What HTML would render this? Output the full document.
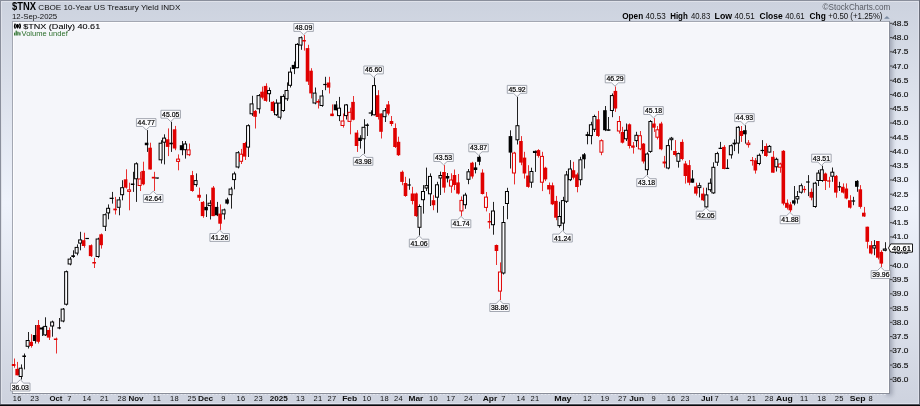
<!DOCTYPE html>
<html><head><meta charset="utf-8"><style>
html,body{margin:0;padding:0;width:920px;height:406px;overflow:hidden;background:#d0d5e0}
body{position:relative;font-family:"Liberation Sans",sans-serif}
svg{will-change:transform}
.ax{font-family:"Liberation Sans",sans-serif;font-size:7.5px;fill:#111;stroke:#111;stroke-width:0.15px}
.xl{font-family:"Liberation Sans",sans-serif;font-size:7.5px;letter-spacing:0.35px;fill:#111}
.xb{font-family:"Liberation Sans",sans-serif;font-size:8px;font-weight:bold;fill:#111}
.pl{font-family:"Liberation Sans",sans-serif;font-size:7px;fill:#000;stroke:#000;stroke-width:0.2px}
.cp{font-family:"Liberation Sans",sans-serif;font-size:7.5px;font-weight:bold;fill:#000}
</style></head><body>
<svg width="920" height="406" viewBox="0 0 920 406" style="position:absolute;left:0;top:0">
<defs><linearGradient id="shR" x1="0" x2="1" y1="0" y2="0"><stop offset="0" stop-color="#9fa4b0"/><stop offset="1" stop-color="#d0d5e0" stop-opacity="0"/></linearGradient><linearGradient id="shB" x1="0" x2="0" y1="0" y2="1"><stop offset="0" stop-color="#9fa4b0"/><stop offset="1" stop-color="#d0d5e0" stop-opacity="0"/></linearGradient></defs>
<linearGradient id="bgG" x1="0" x2="0" y1="0" y2="1"><stop offset="0" stop-color="rgb(204,210,222)"/><stop offset="0.5" stop-color="rgb(239,243,252)"/><stop offset="1" stop-color="rgb(205,210,222)"/></linearGradient>
<rect x="0" y="0" width="920" height="406" fill="url(#bgG)"/>
<rect x="0" y="0" width="920" height="1" fill="#8a8f9c"/>
<rect x="0" y="0" width="1" height="406" fill="#8a8f9c"/>
<rect x="1" y="1" width="917" height="1" fill="#dfe2ea"/>
<rect x="1" y="1" width="1" height="402" fill="#dfe2ea"/>
<rect x="918" y="1" width="1" height="403" fill="#dde0ea"/>
<rect x="1" y="403" width="918" height="1" fill="#dde0ea"/>
<rect x="919" y="0" width="1" height="406" fill="#6a6e7a"/>
<rect x="0" y="404" width="920" height="1" fill="#50535c"/>
<rect x="0" y="405" width="920" height="1" fill="#0a0a0c"/>
<filter id="ds" x="-200%" y="-5%" width="500%" height="110%"><feGaussianBlur stdDeviation="2.0"/></filter>
<rect x="886" y="23" width="6.5" height="372.5" fill="#6e7486" opacity="0.5" filter="url(#ds)"/>
<rect x="12" y="21" width="878" height="373" fill="#a3a7b2"/>
<rect x="13" y="22" width="876" height="371" fill="#f5f6fa"/>
<rect x="13" y="22" width="876" height="1" fill="#fdfdfe"/>
<rect x="13" y="22" width="1" height="371" fill="#fdfdfe"/>
<rect x="888" y="22" width="1" height="371" fill="#fdfdfe"/>
<rect x="13" y="392" width="876" height="1" fill="#fdfdfe"/>
<rect x="889" y="21" width="1" height="373" fill="#8a8e9a"/>
<rect x="12" y="393" width="878" height="1" fill="#8a8e9a"/>
<rect x="890" y="22.80" width="2.5" height="1" fill="#444"/>
<text x="892.2" y="25.80" class="ax" textLength="16.2" lengthAdjust="spacingAndGlyphs">48.5</text>
<rect x="890" y="37.04" width="2.5" height="1" fill="#444"/>
<text x="892.2" y="40.04" class="ax" textLength="16.2" lengthAdjust="spacingAndGlyphs">48.0</text>
<rect x="890" y="51.28" width="2.5" height="1" fill="#444"/>
<text x="892.2" y="54.28" class="ax" textLength="16.2" lengthAdjust="spacingAndGlyphs">47.5</text>
<rect x="890" y="65.52" width="2.5" height="1" fill="#444"/>
<text x="892.2" y="68.52" class="ax" textLength="16.2" lengthAdjust="spacingAndGlyphs">47.0</text>
<rect x="890" y="79.76" width="2.5" height="1" fill="#444"/>
<text x="892.2" y="82.76" class="ax" textLength="16.2" lengthAdjust="spacingAndGlyphs">46.5</text>
<rect x="890" y="94.00" width="2.5" height="1" fill="#444"/>
<text x="892.2" y="97.00" class="ax" textLength="16.2" lengthAdjust="spacingAndGlyphs">46.0</text>
<rect x="890" y="108.24" width="2.5" height="1" fill="#444"/>
<text x="892.2" y="111.24" class="ax" textLength="16.2" lengthAdjust="spacingAndGlyphs">45.5</text>
<rect x="890" y="122.48" width="2.5" height="1" fill="#444"/>
<text x="892.2" y="125.48" class="ax" textLength="16.2" lengthAdjust="spacingAndGlyphs">45.0</text>
<rect x="890" y="136.72" width="2.5" height="1" fill="#444"/>
<text x="892.2" y="139.72" class="ax" textLength="16.2" lengthAdjust="spacingAndGlyphs">44.5</text>
<rect x="890" y="150.96" width="2.5" height="1" fill="#444"/>
<text x="892.2" y="153.96" class="ax" textLength="16.2" lengthAdjust="spacingAndGlyphs">44.0</text>
<rect x="890" y="165.20" width="2.5" height="1" fill="#444"/>
<text x="892.2" y="168.20" class="ax" textLength="16.2" lengthAdjust="spacingAndGlyphs">43.5</text>
<rect x="890" y="179.44" width="2.5" height="1" fill="#444"/>
<text x="892.2" y="182.44" class="ax" textLength="16.2" lengthAdjust="spacingAndGlyphs">43.0</text>
<rect x="890" y="193.68" width="2.5" height="1" fill="#444"/>
<text x="892.2" y="196.68" class="ax" textLength="16.2" lengthAdjust="spacingAndGlyphs">42.5</text>
<rect x="890" y="207.92" width="2.5" height="1" fill="#444"/>
<text x="892.2" y="210.92" class="ax" textLength="16.2" lengthAdjust="spacingAndGlyphs">42.0</text>
<rect x="890" y="222.16" width="2.5" height="1" fill="#444"/>
<text x="892.2" y="225.16" class="ax" textLength="16.2" lengthAdjust="spacingAndGlyphs">41.5</text>
<rect x="890" y="236.40" width="2.5" height="1" fill="#444"/>
<text x="892.2" y="239.40" class="ax" textLength="16.2" lengthAdjust="spacingAndGlyphs">41.0</text>
<rect x="890" y="250.64" width="2.5" height="1" fill="#444"/>
<text x="892.2" y="253.64" class="ax" textLength="16.2" lengthAdjust="spacingAndGlyphs">40.5</text>
<rect x="890" y="264.88" width="2.5" height="1" fill="#444"/>
<text x="892.2" y="267.88" class="ax" textLength="16.2" lengthAdjust="spacingAndGlyphs">40.0</text>
<rect x="890" y="279.12" width="2.5" height="1" fill="#444"/>
<text x="892.2" y="282.12" class="ax" textLength="16.2" lengthAdjust="spacingAndGlyphs">39.5</text>
<rect x="890" y="293.36" width="2.5" height="1" fill="#444"/>
<text x="892.2" y="296.36" class="ax" textLength="16.2" lengthAdjust="spacingAndGlyphs">39.0</text>
<rect x="890" y="307.60" width="2.5" height="1" fill="#444"/>
<text x="892.2" y="310.60" class="ax" textLength="16.2" lengthAdjust="spacingAndGlyphs">38.5</text>
<rect x="890" y="321.84" width="2.5" height="1" fill="#444"/>
<text x="892.2" y="324.84" class="ax" textLength="16.2" lengthAdjust="spacingAndGlyphs">38.0</text>
<rect x="890" y="336.08" width="2.5" height="1" fill="#444"/>
<text x="892.2" y="339.08" class="ax" textLength="16.2" lengthAdjust="spacingAndGlyphs">37.5</text>
<rect x="890" y="350.32" width="2.5" height="1" fill="#444"/>
<text x="892.2" y="353.32" class="ax" textLength="16.2" lengthAdjust="spacingAndGlyphs">37.0</text>
<rect x="890" y="364.56" width="2.5" height="1" fill="#444"/>
<text x="892.2" y="367.56" class="ax" textLength="16.2" lengthAdjust="spacingAndGlyphs">36.5</text>
<rect x="890" y="378.80" width="2.5" height="1" fill="#444"/>
<text x="892.2" y="381.80" class="ax" textLength="16.2" lengthAdjust="spacingAndGlyphs">36.0</text>
<rect x="14" y="358.50" width="1" height="9.20" fill="#e83030"/>
<rect x="11.86" y="364.00" width="3.6" height="2.00" fill="#e00000"/>
<rect x="17" y="361.90" width="1" height="13.40" fill="#e83030"/>
<rect x="15.36" y="368.90" width="3.6" height="6.40" fill="#e00000"/>
<rect x="21" y="364.40" width="1" height="15.10" fill="#222"/>
<rect x="19.16" y="368.20" width="3.0" height="8.30" fill="#fbfbfd" stroke="#000" stroke-width="1.0"/>
<rect x="24" y="353.50" width="1" height="15.90" fill="#222"/>
<rect x="22.36" y="355.50" width="3.6" height="1.50" fill="#000"/>
<rect x="28" y="332.00" width="1" height="16.50" fill="#222"/>
<rect x="26.15" y="340.50" width="3.0" height="5.80" fill="#fbfbfd" stroke="#000" stroke-width="1.0"/>
<rect x="31" y="334.20" width="1" height="13.40" fill="#e83030"/>
<rect x="29.35" y="341.80" width="3.6" height="4.20" fill="#e00000"/>
<rect x="35" y="325.00" width="1" height="18.50" fill="#222"/>
<rect x="32.85" y="335.00" width="3.6" height="6.00" fill="#000"/>
<rect x="38" y="320.00" width="1" height="23.50" fill="#e83030"/>
<rect x="36.35" y="325.00" width="3.6" height="16.80" fill="#e00000"/>
<rect x="42" y="326.70" width="1" height="9.30" fill="#222"/>
<rect x="40.15" y="328.00" width="3.0" height="1.00" fill="#fbfbfd" stroke="#000" stroke-width="1.0"/>
<rect x="45" y="317.30" width="1" height="18.70" fill="#222"/>
<rect x="43.65" y="326.40" width="3.0" height="8.50" fill="#fbfbfd" stroke="#000" stroke-width="1.0"/>
<rect x="49" y="327.50" width="1" height="12.50" fill="#e83030"/>
<rect x="46.84" y="330.00" width="3.6" height="7.60" fill="#e00000"/>
<rect x="52" y="320.60" width="1" height="16.10" fill="#222"/>
<rect x="50.64" y="322.00" width="3.0" height="4.00" fill="#fbfbfd" stroke="#000" stroke-width="1.0"/>
<rect x="56" y="337.60" width="1" height="15.90" fill="#e83030"/>
<rect x="53.84" y="338.50" width="3.6" height="1.50" fill="#e00000"/>
<rect x="59" y="318.00" width="1" height="11.20" fill="#222"/>
<rect x="57.34" y="327.30" width="3.6" height="1.2" fill="#000"/>
<rect x="63" y="308.00" width="1" height="14.30" fill="#222"/>
<rect x="61.14" y="309.10" width="3.0" height="11.90" fill="#fbfbfd" stroke="#000" stroke-width="1.0"/>
<rect x="66" y="270.50" width="1" height="35.00" fill="#222"/>
<rect x="64.64" y="271.70" width="3.0" height="32.50" fill="#fbfbfd" stroke="#000" stroke-width="1.0"/>
<rect x="70" y="257.00" width="1" height="8.30" fill="#222"/>
<rect x="68.14" y="259.10" width="3.0" height="4.90" fill="#fbfbfd" stroke="#000" stroke-width="1.0"/>
<rect x="73" y="250.30" width="1" height="7.50" fill="#222"/>
<rect x="71.33" y="255.30" width="3.6" height="1.70" fill="#000"/>
<rect x="77" y="244.40" width="1" height="10.90" fill="#222"/>
<rect x="75.13" y="247.40" width="3.0" height="5.70" fill="#fbfbfd" stroke="#000" stroke-width="1.0"/>
<rect x="80" y="231.80" width="1" height="18.50" fill="#222"/>
<rect x="78.63" y="239.90" width="3.0" height="3.20" fill="#fbfbfd" stroke="#000" stroke-width="1.0"/>
<rect x="84" y="232.70" width="1" height="15.00" fill="#e83030"/>
<rect x="81.83" y="240.20" width="3.6" height="5.80" fill="#e00000"/>
<rect x="87" y="238.50" width="1" height="0.50" fill="#222"/>
<rect x="85.33" y="237.90" width="3.6" height="1.2" fill="#000"/>
<rect x="91" y="244.40" width="1" height="12.60" fill="#e83030"/>
<rect x="88.83" y="245.20" width="3.6" height="10.90" fill="#e00000"/>
<rect x="94" y="257.80" width="1" height="10.20" fill="#e83030"/>
<rect x="92.33" y="262.00" width="3.6" height="1.50" fill="#e00000"/>
<rect x="98" y="237.70" width="1" height="20.10" fill="#222"/>
<rect x="96.12" y="239.00" width="3.0" height="17.50" fill="#fbfbfd" stroke="#000" stroke-width="1.0"/>
<rect x="101" y="233.50" width="1" height="15.10" fill="#e83030"/>
<rect x="99.32" y="234.30" width="3.6" height="10.90" fill="#e00000"/>
<rect x="105" y="213.40" width="1" height="17.60" fill="#222"/>
<rect x="103.12" y="214.70" width="3.0" height="11.60" fill="#fbfbfd" stroke="#000" stroke-width="1.0"/>
<rect x="108" y="204.40" width="1" height="14.90" fill="#222"/>
<rect x="106.62" y="208.30" width="3.0" height="4.60" fill="#fbfbfd" stroke="#000" stroke-width="1.0"/>
<rect x="112" y="191.90" width="1" height="11.70" fill="#222"/>
<rect x="110.12" y="198.20" width="3.0" height="0.30" fill="#fbfbfd" stroke="#000" stroke-width="1.0"/>
<rect x="115" y="196.90" width="1" height="17.60" fill="#e83030"/>
<rect x="113.32" y="208.60" width="3.6" height="1.70" fill="#e00000"/>
<rect x="119" y="196.90" width="1" height="18.40" fill="#222"/>
<rect x="117.11" y="199.90" width="3.0" height="7.40" fill="#fbfbfd" stroke="#000" stroke-width="1.0"/>
<rect x="122" y="180.20" width="1" height="20.10" fill="#222"/>
<rect x="120.61" y="187.70" width="3.0" height="7.00" fill="#fbfbfd" stroke="#000" stroke-width="1.0"/>
<rect x="126" y="169.30" width="1" height="19.20" fill="#e83030"/>
<rect x="123.81" y="179.30" width="3.6" height="8.40" fill="#e00000"/>
<rect x="129" y="182.70" width="1" height="27.60" fill="#e83030"/>
<rect x="127.61" y="189.90" width="3.0" height="1.50" fill="#fbfbfd" stroke="#e00000" stroke-width="1.0"/>
<rect x="133" y="171.80" width="1" height="20.10" fill="#222"/>
<rect x="130.81" y="183.50" width="3.6" height="1.50" fill="#000"/>
<rect x="136" y="162.30" width="1" height="39.60" fill="#222"/>
<rect x="134.61" y="163.80" width="3.0" height="15.00" fill="#fbfbfd" stroke="#000" stroke-width="1.0"/>
<rect x="140" y="171.80" width="1" height="19.20" fill="#e83030"/>
<rect x="138.11" y="179.00" width="3.0" height="6.50" fill="#fbfbfd" stroke="#e00000" stroke-width="1.0"/>
<rect x="143" y="161.70" width="1" height="23.50" fill="#e83030"/>
<rect x="141.30" y="170.90" width="3.6" height="13.40" fill="#e00000"/>
<rect x="147" y="130.10" width="1" height="21.80" fill="#222"/>
<rect x="144.80" y="142.70" width="3.6" height="2.50" fill="#000"/>
<rect x="150" y="142.70" width="1" height="26.80" fill="#e83030"/>
<rect x="148.30" y="147.70" width="3.6" height="21.80" fill="#e00000"/>
<rect x="154" y="171.80" width="1" height="19.20" fill="#e83030"/>
<rect x="151.80" y="176.80" width="3.6" height="1.70" fill="#e00000"/>
<rect x="157" y="178.00" width="1" height="0.50" fill="#222"/>
<rect x="155.30" y="177.40" width="3.6" height="1.2" fill="#000"/>
<rect x="161" y="140.20" width="1" height="23.40" fill="#222"/>
<rect x="159.10" y="143.20" width="3.0" height="16.60" fill="#fbfbfd" stroke="#000" stroke-width="1.0"/>
<rect x="164" y="134.30" width="1" height="30.10" fill="#222"/>
<rect x="162.60" y="138.10" width="3.0" height="4.10" fill="#fbfbfd" stroke="#000" stroke-width="1.0"/>
<rect x="168" y="128.40" width="1" height="27.70" fill="#e83030"/>
<rect x="165.79" y="139.30" width="3.6" height="7.60" fill="#e00000"/>
<rect x="171" y="121.80" width="1" height="30.10" fill="#222"/>
<rect x="169.29" y="142.70" width="3.6" height="1.60" fill="#000"/>
<rect x="175" y="125.90" width="1" height="24.30" fill="#e83030"/>
<rect x="172.79" y="129.30" width="3.6" height="19.20" fill="#e00000"/>
<rect x="178" y="154.40" width="1" height="15.90" fill="#e83030"/>
<rect x="176.59" y="159.10" width="3.0" height="2.30" fill="#fbfbfd" stroke="#e00000" stroke-width="1.0"/>
<rect x="182" y="141.00" width="1" height="14.20" fill="#222"/>
<rect x="179.79" y="145.20" width="3.6" height="5.00" fill="#000"/>
<rect x="185" y="141.00" width="1" height="17.60" fill="#222"/>
<rect x="183.59" y="144.00" width="3.0" height="5.70" fill="#fbfbfd" stroke="#000" stroke-width="1.0"/>
<rect x="189" y="143.50" width="1" height="12.60" fill="#e83030"/>
<rect x="187.09" y="149.90" width="3.0" height="4.80" fill="#fbfbfd" stroke="#e00000" stroke-width="1.0"/>
<rect x="192" y="170.90" width="1" height="20.90" fill="#e83030"/>
<rect x="190.28" y="175.10" width="3.6" height="15.90" fill="#e00000"/>
<rect x="196" y="173.40" width="1" height="13.40" fill="#222"/>
<rect x="194.08" y="180.60" width="3.0" height="4.00" fill="#fbfbfd" stroke="#000" stroke-width="1.0"/>
<rect x="199" y="187.60" width="1" height="13.40" fill="#e83030"/>
<rect x="197.28" y="194.80" width="3.6" height="2.90" fill="#e00000"/>
<rect x="203" y="201.00" width="1" height="16.80" fill="#e83030"/>
<rect x="200.78" y="201.90" width="3.6" height="14.20" fill="#e00000"/>
<rect x="206" y="194.30" width="1" height="22.70" fill="#222"/>
<rect x="204.28" y="206.90" width="3.6" height="3.40" fill="#000"/>
<rect x="210" y="200.20" width="1" height="19.30" fill="#222"/>
<rect x="208.08" y="203.20" width="3.0" height="2.40" fill="#fbfbfd" stroke="#000" stroke-width="1.0"/>
<rect x="213" y="186.00" width="1" height="30.10" fill="#e83030"/>
<rect x="211.27" y="187.60" width="3.6" height="28.50" fill="#e00000"/>
<rect x="217" y="201.90" width="1" height="14.20" fill="#222"/>
<rect x="214.77" y="206.90" width="3.6" height="8.40" fill="#000"/>
<rect x="220" y="204.40" width="1" height="25.50" fill="#e83030"/>
<rect x="218.27" y="213.60" width="3.6" height="10.10" fill="#e00000"/>
<rect x="224" y="208.60" width="1" height="10.90" fill="#222"/>
<rect x="222.07" y="209.90" width="3.0" height="4.00" fill="#fbfbfd" stroke="#000" stroke-width="1.0"/>
<rect x="227" y="197.70" width="1" height="6.70" fill="#222"/>
<rect x="225.27" y="199.40" width="3.6" height="4.20" fill="#000"/>
<rect x="231" y="186.80" width="1" height="21.80" fill="#222"/>
<rect x="229.07" y="189.00" width="3.0" height="5.70" fill="#fbfbfd" stroke="#000" stroke-width="1.0"/>
<rect x="234" y="171.70" width="1" height="17.60" fill="#222"/>
<rect x="232.57" y="173.90" width="3.0" height="5.70" fill="#fbfbfd" stroke="#000" stroke-width="1.0"/>
<rect x="238" y="151.10" width="1" height="17.30" fill="#222"/>
<rect x="236.06" y="152.70" width="3.0" height="14.30" fill="#fbfbfd" stroke="#000" stroke-width="1.0"/>
<rect x="241" y="148.90" width="1" height="15.10" fill="#e83030"/>
<rect x="239.56" y="154.20" width="3.0" height="7.10" fill="#fbfbfd" stroke="#e00000" stroke-width="1.0"/>
<rect x="245" y="141.80" width="1" height="18.20" fill="#e83030"/>
<rect x="242.76" y="143.00" width="3.6" height="13.60" fill="#e00000"/>
<rect x="248" y="124.30" width="1" height="32.70" fill="#222"/>
<rect x="246.56" y="125.70" width="3.0" height="21.40" fill="#fbfbfd" stroke="#000" stroke-width="1.0"/>
<rect x="252" y="95.80" width="1" height="20.10" fill="#222"/>
<rect x="250.06" y="103.90" width="3.0" height="9.90" fill="#fbfbfd" stroke="#000" stroke-width="1.0"/>
<rect x="255" y="110.00" width="1" height="18.50" fill="#e83030"/>
<rect x="253.26" y="110.90" width="3.6" height="5.90" fill="#e00000"/>
<rect x="259" y="94.00" width="1" height="19.50" fill="#222"/>
<rect x="257.06" y="95.60" width="3.0" height="13.20" fill="#fbfbfd" stroke="#000" stroke-width="1.0"/>
<rect x="262" y="86.60" width="1" height="12.70" fill="#e83030"/>
<rect x="260.25" y="91.70" width="3.6" height="5.90" fill="#e00000"/>
<rect x="266" y="83.30" width="1" height="18.50" fill="#e83030"/>
<rect x="263.75" y="85.90" width="3.6" height="15.00" fill="#e00000"/>
<rect x="269" y="87.50" width="1" height="14.30" fill="#222"/>
<rect x="267.55" y="90.50" width="3.0" height="3.20" fill="#fbfbfd" stroke="#000" stroke-width="1.0"/>
<rect x="273" y="101.00" width="1" height="11.70" fill="#e83030"/>
<rect x="270.75" y="101.80" width="3.6" height="9.20" fill="#e00000"/>
<rect x="276" y="99.30" width="1" height="16.70" fill="#222"/>
<rect x="274.55" y="103.10" width="3.0" height="11.60" fill="#fbfbfd" stroke="#000" stroke-width="1.0"/>
<rect x="280" y="95.90" width="1" height="23.50" fill="#222"/>
<rect x="278.05" y="103.10" width="3.0" height="14.10" fill="#fbfbfd" stroke="#000" stroke-width="1.0"/>
<rect x="283" y="94.20" width="1" height="17.60" fill="#222"/>
<rect x="281.54" y="96.40" width="3.0" height="14.10" fill="#fbfbfd" stroke="#000" stroke-width="1.0"/>
<rect x="287" y="82.40" width="1" height="18.50" fill="#222"/>
<rect x="285.04" y="90.50" width="3.0" height="8.30" fill="#fbfbfd" stroke="#000" stroke-width="1.0"/>
<rect x="290" y="67.40" width="1" height="20.10" fill="#222"/>
<rect x="288.54" y="72.10" width="3.0" height="13.20" fill="#fbfbfd" stroke="#000" stroke-width="1.0"/>
<rect x="294" y="61.50" width="1" height="12.60" fill="#222"/>
<rect x="291.74" y="64.90" width="3.6" height="4.10" fill="#000"/>
<rect x="297" y="43.10" width="1" height="25.10" fill="#222"/>
<rect x="295.54" y="44.40" width="3.0" height="23.30" fill="#fbfbfd" stroke="#000" stroke-width="1.0"/>
<rect x="301" y="36.40" width="1" height="13.40" fill="#222"/>
<rect x="299.04" y="37.70" width="3.0" height="7.40" fill="#fbfbfd" stroke="#000" stroke-width="1.0"/>
<rect x="304" y="35.00" width="1" height="15.60" fill="#e83030"/>
<rect x="302.24" y="40.00" width="3.6" height="1.50" fill="#e00000"/>
<rect x="308" y="44.80" width="1" height="40.20" fill="#e83030"/>
<rect x="305.73" y="48.10" width="3.6" height="33.50" fill="#e00000"/>
<rect x="311" y="68.20" width="1" height="30.20" fill="#e83030"/>
<rect x="309.23" y="70.70" width="3.6" height="22.70" fill="#e00000"/>
<rect x="315" y="87.50" width="1" height="16.80" fill="#222"/>
<rect x="313.03" y="93.10" width="3.0" height="9.90" fill="#fbfbfd" stroke="#000" stroke-width="1.0"/>
<rect x="318" y="99.30" width="1" height="9.20" fill="#e83030"/>
<rect x="316.23" y="101.00" width="3.6" height="1.60" fill="#e00000"/>
<rect x="322" y="90.00" width="1" height="16.80" fill="#222"/>
<rect x="320.03" y="96.00" width="3.0" height="9.50" fill="#fbfbfd" stroke="#000" stroke-width="1.0"/>
<rect x="325" y="76.80" width="1" height="13.40" fill="#222"/>
<rect x="323.23" y="83.90" width="3.6" height="1.2" fill="#000"/>
<rect x="329" y="76.80" width="1" height="16.70" fill="#e83030"/>
<rect x="326.73" y="82.50" width="3.6" height="5.10" fill="#e00000"/>
<rect x="332" y="104.40" width="1" height="11.70" fill="#e83030"/>
<rect x="330.22" y="113.60" width="3.6" height="2.50" fill="#e00000"/>
<rect x="336" y="101.00" width="1" height="9.30" fill="#222"/>
<rect x="333.72" y="104.40" width="3.6" height="5.90" fill="#000"/>
<rect x="339" y="96.90" width="1" height="24.20" fill="#222"/>
<rect x="337.52" y="108.20" width="3.0" height="7.40" fill="#fbfbfd" stroke="#000" stroke-width="1.0"/>
<rect x="343" y="113.50" width="1" height="14.10" fill="#e83030"/>
<rect x="341.02" y="121.00" width="3.0" height="4.50" fill="#fbfbfd" stroke="#e00000" stroke-width="1.0"/>
<rect x="346" y="104.00" width="1" height="15.50" fill="#222"/>
<rect x="344.52" y="104.90" width="3.0" height="10.70" fill="#fbfbfd" stroke="#000" stroke-width="1.0"/>
<rect x="350" y="107.70" width="1" height="26.60" fill="#e83030"/>
<rect x="348.02" y="112.30" width="3.0" height="9.10" fill="#fbfbfd" stroke="#e00000" stroke-width="1.0"/>
<rect x="353" y="96.00" width="1" height="24.30" fill="#e83030"/>
<rect x="351.21" y="101.90" width="3.6" height="17.90" fill="#e00000"/>
<rect x="357" y="130.10" width="1" height="21.80" fill="#e83030"/>
<rect x="354.71" y="132.60" width="3.6" height="13.40" fill="#e00000"/>
<rect x="360" y="135.20" width="1" height="13.40" fill="#222"/>
<rect x="358.21" y="137.70" width="3.6" height="3.30" fill="#000"/>
<rect x="364" y="119.20" width="1" height="34.60" fill="#222"/>
<rect x="362.01" y="127.30" width="3.0" height="11.50" fill="#fbfbfd" stroke="#000" stroke-width="1.0"/>
<rect x="367" y="123.40" width="1" height="12.60" fill="#222"/>
<rect x="365.21" y="124.50" width="3.6" height="1.50" fill="#000"/>
<rect x="371" y="110.30" width="1" height="5.80" fill="#222"/>
<rect x="368.71" y="112.40" width="3.6" height="1.2" fill="#000"/>
<rect x="374" y="77.50" width="1" height="37.80" fill="#222"/>
<rect x="372.51" y="85.60" width="3.0" height="29.20" fill="#fbfbfd" stroke="#000" stroke-width="1.0"/>
<rect x="378" y="90.20" width="1" height="29.30" fill="#e83030"/>
<rect x="375.70" y="95.20" width="3.6" height="21.80" fill="#e00000"/>
<rect x="381" y="113.40" width="1" height="25.10" fill="#e83030"/>
<rect x="379.20" y="113.50" width="3.6" height="18.30" fill="#e00000"/>
<rect x="385" y="108.00" width="1" height="14.00" fill="#222"/>
<rect x="383.00" y="110.70" width="3.0" height="6.00" fill="#fbfbfd" stroke="#000" stroke-width="1.0"/>
<rect x="388" y="101.00" width="1" height="14.30" fill="#e83030"/>
<rect x="386.20" y="104.40" width="3.6" height="9.20" fill="#e00000"/>
<rect x="391" y="116.00" width="1" height="10.10" fill="#e83030"/>
<rect x="389.70" y="121.00" width="3.6" height="3.00" fill="#e00000"/>
<rect x="395" y="123.40" width="1" height="24.60" fill="#e83030"/>
<rect x="393.20" y="128.00" width="3.6" height="19.00" fill="#e00000"/>
<rect x="398" y="136.70" width="1" height="19.30" fill="#e83030"/>
<rect x="396.69" y="141.80" width="3.6" height="13.40" fill="#e00000"/>
<rect x="402" y="170.50" width="1" height="14.70" fill="#e83030"/>
<rect x="400.19" y="171.80" width="3.6" height="10.10" fill="#e00000"/>
<rect x="405" y="176.80" width="1" height="20.00" fill="#e83030"/>
<rect x="403.69" y="183.00" width="3.6" height="13.00" fill="#e00000"/>
<rect x="409" y="178.50" width="1" height="11.30" fill="#222"/>
<rect x="407.19" y="184.40" width="3.6" height="1.2" fill="#000"/>
<rect x="412" y="186.80" width="1" height="17.60" fill="#e83030"/>
<rect x="410.69" y="193.50" width="3.6" height="7.50" fill="#e00000"/>
<rect x="416" y="192.60" width="1" height="24.30" fill="#e83030"/>
<rect x="414.19" y="193.50" width="3.6" height="22.60" fill="#e00000"/>
<rect x="419" y="204.40" width="1" height="31.20" fill="#222"/>
<rect x="417.99" y="206.50" width="3.0" height="20.80" fill="#fbfbfd" stroke="#000" stroke-width="1.0"/>
<rect x="423" y="185.10" width="1" height="28.50" fill="#222"/>
<rect x="421.48" y="191.50" width="3.0" height="8.20" fill="#fbfbfd" stroke="#000" stroke-width="1.0"/>
<rect x="426" y="167.60" width="1" height="23.40" fill="#222"/>
<rect x="424.98" y="185.60" width="3.0" height="2.40" fill="#fbfbfd" stroke="#000" stroke-width="1.0"/>
<rect x="430" y="173.40" width="1" height="32.60" fill="#222"/>
<rect x="428.48" y="176.40" width="3.0" height="17.40" fill="#fbfbfd" stroke="#000" stroke-width="1.0"/>
<rect x="433" y="195.20" width="1" height="15.00" fill="#e83030"/>
<rect x="431.68" y="200.20" width="3.6" height="5.00" fill="#e00000"/>
<rect x="437" y="181.80" width="1" height="30.90" fill="#222"/>
<rect x="435.48" y="184.80" width="3.0" height="12.40" fill="#fbfbfd" stroke="#000" stroke-width="1.0"/>
<rect x="440" y="171.60" width="1" height="23.40" fill="#222"/>
<rect x="438.98" y="175.50" width="3.0" height="2.50" fill="#fbfbfd" stroke="#000" stroke-width="1.0"/>
<rect x="444" y="165.10" width="1" height="27.60" fill="#e83030"/>
<rect x="442.18" y="172.00" width="3.6" height="15.60" fill="#e00000"/>
<rect x="447" y="173.00" width="1" height="9.40" fill="#222"/>
<rect x="445.67" y="176.00" width="3.6" height="2.50" fill="#000"/>
<rect x="451" y="173.30" width="1" height="19.50" fill="#e83030"/>
<rect x="449.47" y="180.00" width="3.0" height="6.10" fill="#fbfbfd" stroke="#e00000" stroke-width="1.0"/>
<rect x="454" y="169.50" width="1" height="20.60" fill="#e83030"/>
<rect x="452.67" y="175.00" width="3.6" height="10.00" fill="#e00000"/>
<rect x="458" y="174.00" width="1" height="20.50" fill="#e83030"/>
<rect x="456.17" y="182.40" width="3.6" height="11.20" fill="#e00000"/>
<rect x="461" y="196.40" width="1" height="19.80" fill="#e83030"/>
<rect x="459.97" y="200.40" width="3.0" height="10.50" fill="#fbfbfd" stroke="#e00000" stroke-width="1.0"/>
<rect x="465" y="192.80" width="1" height="16.00" fill="#222"/>
<rect x="463.47" y="195.10" width="3.0" height="9.60" fill="#fbfbfd" stroke="#000" stroke-width="1.0"/>
<rect x="468" y="169.00" width="1" height="15.20" fill="#222"/>
<rect x="466.97" y="171.80" width="3.0" height="7.50" fill="#fbfbfd" stroke="#000" stroke-width="1.0"/>
<rect x="472" y="161.80" width="1" height="16.80" fill="#e83030"/>
<rect x="470.16" y="162.70" width="3.6" height="13.80" fill="#e00000"/>
<rect x="475" y="162.20" width="1" height="11.20" fill="#222"/>
<rect x="473.66" y="167.40" width="3.6" height="2.60" fill="#000"/>
<rect x="479" y="155.40" width="1" height="9.80" fill="#222"/>
<rect x="477.16" y="156.80" width="3.6" height="5.00" fill="#000"/>
<rect x="482" y="169.30" width="1" height="25.20" fill="#e83030"/>
<rect x="480.66" y="172.60" width="3.6" height="21.40" fill="#e00000"/>
<rect x="486" y="192.00" width="1" height="19.40" fill="#e83030"/>
<rect x="484.46" y="197.10" width="3.0" height="10.30" fill="#fbfbfd" stroke="#e00000" stroke-width="1.0"/>
<rect x="489" y="213.10" width="1" height="15.50" fill="#e83030"/>
<rect x="487.66" y="221.00" width="3.6" height="1.50" fill="#e00000"/>
<rect x="493" y="201.90" width="1" height="32.80" fill="#222"/>
<rect x="491.45" y="211.00" width="3.0" height="13.70" fill="#fbfbfd" stroke="#000" stroke-width="1.0"/>
<rect x="496" y="244.50" width="1" height="20.50" fill="#e83030"/>
<rect x="494.65" y="245.00" width="3.6" height="6.00" fill="#e00000"/>
<rect x="500" y="262.40" width="1" height="37.60" fill="#e83030"/>
<rect x="498.45" y="272.00" width="3.0" height="19.10" fill="#fbfbfd" stroke="#e00000" stroke-width="1.0"/>
<rect x="503" y="206.00" width="1" height="68.50" fill="#222"/>
<rect x="501.95" y="222.50" width="3.0" height="50.50" fill="#fbfbfd" stroke="#000" stroke-width="1.0"/>
<rect x="507" y="187.80" width="1" height="31.40" fill="#222"/>
<rect x="505.45" y="191.50" width="3.0" height="12.00" fill="#fbfbfd" stroke="#000" stroke-width="1.0"/>
<rect x="510" y="130.30" width="1" height="38.20" fill="#222"/>
<rect x="508.65" y="136.10" width="3.6" height="16.50" fill="#000"/>
<rect x="514" y="151.80" width="1" height="32.60" fill="#e83030"/>
<rect x="512.45" y="153.10" width="3.0" height="19.90" fill="#fbfbfd" stroke="#e00000" stroke-width="1.0"/>
<rect x="517" y="96.90" width="1" height="47.60" fill="#222"/>
<rect x="515.94" y="125.70" width="3.0" height="14.10" fill="#fbfbfd" stroke="#000" stroke-width="1.0"/>
<rect x="521" y="136.10" width="1" height="29.10" fill="#e83030"/>
<rect x="519.14" y="141.00" width="3.6" height="21.60" fill="#e00000"/>
<rect x="524" y="151.80" width="1" height="26.80" fill="#e83030"/>
<rect x="522.64" y="157.60" width="3.6" height="15.90" fill="#e00000"/>
<rect x="528" y="165.20" width="1" height="22.60" fill="#e83030"/>
<rect x="526.14" y="175.50" width="3.6" height="11.40" fill="#e00000"/>
<rect x="531" y="167.70" width="1" height="20.10" fill="#222"/>
<rect x="529.94" y="171.50" width="3.0" height="10.70" fill="#fbfbfd" stroke="#000" stroke-width="1.0"/>
<rect x="535" y="150.50" width="1" height="21.40" fill="#222"/>
<rect x="533.44" y="151.40" width="3.0" height="1.10" fill="#fbfbfd" stroke="#000" stroke-width="1.0"/>
<rect x="538" y="149.20" width="1" height="8.40" fill="#e83030"/>
<rect x="536.63" y="150.10" width="3.6" height="5.80" fill="#e00000"/>
<rect x="542" y="151.80" width="1" height="39.30" fill="#e83030"/>
<rect x="540.43" y="156.40" width="3.0" height="25.80" fill="#fbfbfd" stroke="#e00000" stroke-width="1.0"/>
<rect x="545" y="166.80" width="1" height="14.30" fill="#e83030"/>
<rect x="543.63" y="167.70" width="3.6" height="11.70" fill="#e00000"/>
<rect x="549" y="182.50" width="1" height="11.70" fill="#e83030"/>
<rect x="547.13" y="185.00" width="3.6" height="4.50" fill="#e00000"/>
<rect x="552" y="182.60" width="1" height="22.50" fill="#e83030"/>
<rect x="550.63" y="185.30" width="3.6" height="19.00" fill="#e00000"/>
<rect x="556" y="195.90" width="1" height="24.30" fill="#e83030"/>
<rect x="554.13" y="200.90" width="3.6" height="16.80" fill="#e00000"/>
<rect x="559" y="201.80" width="1" height="25.90" fill="#222"/>
<rect x="557.93" y="216.50" width="3.0" height="9.10" fill="#fbfbfd" stroke="#000" stroke-width="1.0"/>
<rect x="563" y="196.80" width="1" height="33.70" fill="#222"/>
<rect x="561.42" y="200.60" width="3.0" height="22.50" fill="#fbfbfd" stroke="#000" stroke-width="1.0"/>
<rect x="566" y="171.00" width="1" height="32.00" fill="#222"/>
<rect x="564.92" y="174.90" width="3.0" height="26.40" fill="#fbfbfd" stroke="#000" stroke-width="1.0"/>
<rect x="570" y="160.10" width="1" height="21.00" fill="#222"/>
<rect x="568.42" y="169.00" width="3.0" height="10.70" fill="#fbfbfd" stroke="#000" stroke-width="1.0"/>
<rect x="573" y="161.80" width="1" height="17.60" fill="#e83030"/>
<rect x="571.62" y="170.20" width="3.6" height="7.50" fill="#e00000"/>
<rect x="577" y="172.70" width="1" height="19.60" fill="#e83030"/>
<rect x="575.12" y="174.40" width="3.6" height="12.60" fill="#e00000"/>
<rect x="580" y="156.80" width="1" height="28.50" fill="#222"/>
<rect x="578.92" y="159.80" width="3.0" height="19.90" fill="#fbfbfd" stroke="#000" stroke-width="1.0"/>
<rect x="584" y="153.00" width="1" height="15.50" fill="#222"/>
<rect x="582.12" y="154.30" width="3.6" height="5.00" fill="#000"/>
<rect x="587" y="131.80" width="1" height="12.50" fill="#222"/>
<rect x="585.61" y="134.20" width="3.6" height="1.80" fill="#000"/>
<rect x="591" y="121.80" width="1" height="22.50" fill="#222"/>
<rect x="589.41" y="124.80" width="3.0" height="10.80" fill="#fbfbfd" stroke="#000" stroke-width="1.0"/>
<rect x="594" y="114.70" width="1" height="17.30" fill="#222"/>
<rect x="592.91" y="116.50" width="3.0" height="12.80" fill="#fbfbfd" stroke="#000" stroke-width="1.0"/>
<rect x="598" y="110.90" width="1" height="26.10" fill="#e83030"/>
<rect x="596.11" y="119.30" width="3.6" height="16.70" fill="#e00000"/>
<rect x="601" y="139.30" width="1" height="15.90" fill="#e83030"/>
<rect x="599.91" y="140.70" width="3.0" height="11.50" fill="#fbfbfd" stroke="#e00000" stroke-width="1.0"/>
<rect x="605" y="106.00" width="1" height="25.10" fill="#222"/>
<rect x="603.11" y="110.20" width="3.6" height="20.00" fill="#000"/>
<rect x="608" y="117.00" width="1" height="14.00" fill="#222"/>
<rect x="606.90" y="129.80" width="3.0" height="0.50" fill="#fbfbfd" stroke="#000" stroke-width="1.0"/>
<rect x="612" y="93.50" width="1" height="23.70" fill="#222"/>
<rect x="610.40" y="95.60" width="3.0" height="14.90" fill="#fbfbfd" stroke="#000" stroke-width="1.0"/>
<rect x="615" y="86.40" width="1" height="25.50" fill="#e83030"/>
<rect x="613.60" y="90.90" width="3.6" height="17.60" fill="#e00000"/>
<rect x="619" y="116.00" width="1" height="17.60" fill="#e83030"/>
<rect x="617.40" y="121.50" width="3.0" height="9.50" fill="#fbfbfd" stroke="#e00000" stroke-width="1.0"/>
<rect x="622" y="126.80" width="1" height="16.70" fill="#e83030"/>
<rect x="620.60" y="132.00" width="3.6" height="10.70" fill="#e00000"/>
<rect x="626" y="123.50" width="1" height="17.50" fill="#222"/>
<rect x="624.40" y="130.30" width="3.0" height="8.50" fill="#fbfbfd" stroke="#000" stroke-width="1.0"/>
<rect x="629" y="123.40" width="1" height="25.10" fill="#e83030"/>
<rect x="627.60" y="124.30" width="3.6" height="21.70" fill="#e00000"/>
<rect x="633" y="142.00" width="1" height="11.60" fill="#e83030"/>
<rect x="631.09" y="145.50" width="3.6" height="2.20" fill="#e00000"/>
<rect x="636" y="131.80" width="1" height="15.20" fill="#222"/>
<rect x="634.89" y="135.30" width="3.0" height="5.30" fill="#fbfbfd" stroke="#000" stroke-width="1.0"/>
<rect x="640" y="131.00" width="1" height="19.20" fill="#e83030"/>
<rect x="638.39" y="135.70" width="3.0" height="13.20" fill="#fbfbfd" stroke="#e00000" stroke-width="1.0"/>
<rect x="643" y="143.00" width="1" height="20.50" fill="#e83030"/>
<rect x="641.59" y="143.60" width="3.6" height="17.90" fill="#e00000"/>
<rect x="647" y="152.30" width="1" height="22.80" fill="#222"/>
<rect x="645.39" y="154.00" width="3.0" height="15.70" fill="#fbfbfd" stroke="#000" stroke-width="1.0"/>
<rect x="650" y="120.10" width="1" height="32.70" fill="#222"/>
<rect x="648.89" y="121.50" width="3.0" height="29.90" fill="#fbfbfd" stroke="#000" stroke-width="1.0"/>
<rect x="654" y="118.10" width="1" height="13.80" fill="#e83030"/>
<rect x="652.09" y="123.50" width="3.6" height="4.20" fill="#e00000"/>
<rect x="657" y="126.00" width="1" height="13.40" fill="#e83030"/>
<rect x="655.88" y="129.80" width="3.0" height="7.40" fill="#fbfbfd" stroke="#e00000" stroke-width="1.0"/>
<rect x="661" y="121.80" width="1" height="28.50" fill="#e83030"/>
<rect x="659.08" y="123.50" width="3.6" height="25.80" fill="#e00000"/>
<rect x="664" y="155.90" width="1" height="11.70" fill="#e83030"/>
<rect x="662.58" y="161.50" width="3.6" height="2.00" fill="#e00000"/>
<rect x="668" y="139.40" width="1" height="29.90" fill="#222"/>
<rect x="666.38" y="145.60" width="3.0" height="22.40" fill="#fbfbfd" stroke="#000" stroke-width="1.0"/>
<rect x="671" y="136.90" width="1" height="13.40" fill="#222"/>
<rect x="669.88" y="138.20" width="3.0" height="1.50" fill="#fbfbfd" stroke="#000" stroke-width="1.0"/>
<rect x="675" y="140.10" width="1" height="16.40" fill="#e83030"/>
<rect x="673.08" y="151.00" width="3.6" height="4.00" fill="#e00000"/>
<rect x="678" y="152.60" width="1" height="15.00" fill="#222"/>
<rect x="676.88" y="153.60" width="3.0" height="7.70" fill="#fbfbfd" stroke="#000" stroke-width="1.0"/>
<rect x="682" y="139.40" width="1" height="20.90" fill="#e83030"/>
<rect x="680.07" y="141.90" width="3.6" height="17.10" fill="#e00000"/>
<rect x="685" y="160.90" width="1" height="22.70" fill="#e83030"/>
<rect x="683.57" y="163.50" width="3.6" height="12.50" fill="#e00000"/>
<rect x="689" y="160.10" width="1" height="25.10" fill="#e83030"/>
<rect x="687.07" y="165.10" width="3.6" height="17.60" fill="#e00000"/>
<rect x="692" y="170.10" width="1" height="12.60" fill="#222"/>
<rect x="690.57" y="178.50" width="3.6" height="4.20" fill="#000"/>
<rect x="696" y="182.70" width="1" height="12.90" fill="#e83030"/>
<rect x="694.07" y="186.50" width="3.6" height="7.10" fill="#e00000"/>
<rect x="699" y="182.70" width="1" height="14.70" fill="#222"/>
<rect x="697.87" y="185.70" width="3.0" height="1.90" fill="#fbfbfd" stroke="#000" stroke-width="1.0"/>
<rect x="703" y="187.70" width="1" height="13.40" fill="#e83030"/>
<rect x="701.06" y="193.60" width="3.6" height="6.70" fill="#e00000"/>
<rect x="706" y="187.70" width="1" height="19.90" fill="#222"/>
<rect x="704.86" y="194.90" width="3.0" height="12.00" fill="#fbfbfd" stroke="#000" stroke-width="1.0"/>
<rect x="710" y="178.50" width="1" height="13.40" fill="#222"/>
<rect x="708.36" y="183.20" width="3.0" height="6.50" fill="#fbfbfd" stroke="#000" stroke-width="1.0"/>
<rect x="713" y="162.30" width="1" height="31.50" fill="#222"/>
<rect x="711.86" y="167.30" width="3.0" height="25.60" fill="#fbfbfd" stroke="#000" stroke-width="1.0"/>
<rect x="717" y="151.80" width="1" height="14.10" fill="#222"/>
<rect x="715.36" y="153.60" width="3.0" height="8.60" fill="#fbfbfd" stroke="#000" stroke-width="1.0"/>
<rect x="720" y="141.90" width="1" height="6.90" fill="#222"/>
<rect x="718.56" y="147.75" width="3.6" height="1.2" fill="#000"/>
<rect x="724" y="145.20" width="1" height="24.10" fill="#e83030"/>
<rect x="722.06" y="146.90" width="3.6" height="22.10" fill="#e00000"/>
<rect x="727" y="159.20" width="1" height="9.60" fill="#222"/>
<rect x="725.55" y="167.75" width="3.6" height="1.2" fill="#000"/>
<rect x="731" y="144.40" width="1" height="14.20" fill="#222"/>
<rect x="729.35" y="145.70" width="3.0" height="9.10" fill="#fbfbfd" stroke="#000" stroke-width="1.0"/>
<rect x="734" y="139.40" width="1" height="11.70" fill="#222"/>
<rect x="732.55" y="142.70" width="3.6" height="1.70" fill="#000"/>
<rect x="738" y="126.00" width="1" height="27.60" fill="#222"/>
<rect x="736.35" y="127.30" width="3.0" height="15.80" fill="#fbfbfd" stroke="#000" stroke-width="1.0"/>
<rect x="741" y="126.00" width="1" height="15.90" fill="#e83030"/>
<rect x="739.55" y="131.00" width="3.6" height="5.00" fill="#e00000"/>
<rect x="745" y="125.20" width="1" height="18.40" fill="#222"/>
<rect x="743.05" y="130.20" width="3.6" height="4.10" fill="#000"/>
<rect x="748" y="140.10" width="1" height="7.50" fill="#e83030"/>
<rect x="746.84" y="143.10" width="3.0" height="1.50" fill="#fbfbfd" stroke="#e00000" stroke-width="1.0"/>
<rect x="752" y="157.00" width="1" height="8.60" fill="#e83030"/>
<rect x="750.04" y="159.90" width="3.6" height="1.2" fill="#e00000"/>
<rect x="755" y="158.00" width="1" height="15.60" fill="#e83030"/>
<rect x="753.54" y="160.30" width="3.6" height="10.20" fill="#e00000"/>
<rect x="759" y="153.50" width="1" height="11.70" fill="#222"/>
<rect x="757.34" y="155.30" width="3.0" height="8.20" fill="#fbfbfd" stroke="#000" stroke-width="1.0"/>
<rect x="762" y="140.10" width="1" height="13.50" fill="#222"/>
<rect x="760.54" y="149.90" width="3.6" height="1.2" fill="#000"/>
<rect x="766" y="143.40" width="1" height="13.40" fill="#e83030"/>
<rect x="764.04" y="146.00" width="3.6" height="10.00" fill="#e00000"/>
<rect x="769" y="145.10" width="1" height="7.50" fill="#222"/>
<rect x="767.84" y="146.40" width="3.0" height="5.70" fill="#fbfbfd" stroke="#000" stroke-width="1.0"/>
<rect x="773" y="151.00" width="1" height="21.70" fill="#e83030"/>
<rect x="771.03" y="156.80" width="3.6" height="15.90" fill="#e00000"/>
<rect x="776" y="157.60" width="1" height="13.90" fill="#222"/>
<rect x="774.83" y="159.30" width="3.0" height="7.50" fill="#fbfbfd" stroke="#000" stroke-width="1.0"/>
<rect x="780" y="162.70" width="1" height="10.00" fill="#e83030"/>
<rect x="778.33" y="164.00" width="3.0" height="3.20" fill="#fbfbfd" stroke="#e00000" stroke-width="1.0"/>
<rect x="783" y="150.10" width="1" height="55.20" fill="#e83030"/>
<rect x="781.53" y="150.80" width="3.6" height="52.80" fill="#e00000"/>
<rect x="787" y="199.40" width="1" height="10.10" fill="#e83030"/>
<rect x="785.03" y="202.80" width="3.6" height="5.00" fill="#e00000"/>
<rect x="790" y="201.90" width="1" height="10.30" fill="#e83030"/>
<rect x="788.53" y="204.40" width="3.6" height="5.90" fill="#e00000"/>
<rect x="794" y="186.00" width="1" height="19.30" fill="#222"/>
<rect x="792.03" y="200.30" width="3.6" height="3.30" fill="#000"/>
<rect x="797" y="191.00" width="1" height="12.60" fill="#222"/>
<rect x="795.82" y="196.60" width="3.0" height="2.30" fill="#fbfbfd" stroke="#000" stroke-width="1.0"/>
<rect x="801" y="183.50" width="1" height="10.10" fill="#222"/>
<rect x="799.32" y="185.70" width="3.0" height="6.50" fill="#fbfbfd" stroke="#000" stroke-width="1.0"/>
<rect x="804" y="186.00" width="1" height="6.70" fill="#e83030"/>
<rect x="802.52" y="188.90" width="3.6" height="1.2" fill="#e00000"/>
<rect x="808" y="175.10" width="1" height="21.00" fill="#222"/>
<rect x="806.02" y="181.40" width="3.6" height="1.2" fill="#000"/>
<rect x="811" y="188.50" width="1" height="11.80" fill="#e83030"/>
<rect x="809.52" y="191.90" width="3.6" height="5.80" fill="#e00000"/>
<rect x="815" y="181.80" width="1" height="26.00" fill="#222"/>
<rect x="813.32" y="183.20" width="3.0" height="23.30" fill="#fbfbfd" stroke="#000" stroke-width="1.0"/>
<rect x="818" y="170.10" width="1" height="15.90" fill="#222"/>
<rect x="816.81" y="173.10" width="3.0" height="7.40" fill="#fbfbfd" stroke="#000" stroke-width="1.0"/>
<rect x="822" y="165.70" width="1" height="16.10" fill="#222"/>
<rect x="820.31" y="169.80" width="3.0" height="10.70" fill="#fbfbfd" stroke="#000" stroke-width="1.0"/>
<rect x="825" y="172.60" width="1" height="17.40" fill="#e83030"/>
<rect x="823.51" y="173.50" width="3.6" height="7.50" fill="#e00000"/>
<rect x="829" y="176.80" width="1" height="10.90" fill="#e83030"/>
<rect x="827.01" y="180.40" width="3.6" height="1.2" fill="#e00000"/>
<rect x="832" y="167.50" width="1" height="14.30" fill="#222"/>
<rect x="830.81" y="172.20" width="3.0" height="4.00" fill="#fbfbfd" stroke="#000" stroke-width="1.0"/>
<rect x="836" y="175.00" width="1" height="22.70" fill="#e83030"/>
<rect x="834.01" y="175.90" width="3.6" height="16.70" fill="#e00000"/>
<rect x="839" y="181.80" width="1" height="9.20" fill="#222"/>
<rect x="837.51" y="186.20" width="3.6" height="1.2" fill="#000"/>
<rect x="843" y="183.40" width="1" height="10.10" fill="#e83030"/>
<rect x="841.00" y="186.80" width="3.6" height="5.80" fill="#e00000"/>
<rect x="846" y="183.40" width="1" height="15.90" fill="#e83030"/>
<rect x="844.50" y="188.50" width="3.6" height="10.00" fill="#e00000"/>
<rect x="850" y="195.20" width="1" height="13.40" fill="#e83030"/>
<rect x="848.00" y="200.20" width="3.6" height="7.50" fill="#e00000"/>
<rect x="853" y="196.80" width="1" height="8.40" fill="#222"/>
<rect x="851.50" y="200.40" width="3.6" height="1.2" fill="#000"/>
<rect x="857" y="180.10" width="1" height="11.70" fill="#222"/>
<rect x="855.00" y="180.90" width="3.6" height="5.90" fill="#000"/>
<rect x="860" y="185.10" width="1" height="23.50" fill="#e83030"/>
<rect x="858.50" y="189.30" width="3.6" height="17.60" fill="#e00000"/>
<rect x="864" y="206.90" width="1" height="10.00" fill="#e83030"/>
<rect x="862.00" y="212.70" width="3.6" height="3.80" fill="#e00000"/>
<rect x="867" y="226.70" width="1" height="21.80" fill="#e83030"/>
<rect x="865.49" y="226.70" width="3.6" height="15.10" fill="#e00000"/>
<rect x="871" y="241.00" width="1" height="13.40" fill="#e83030"/>
<rect x="868.99" y="245.20" width="3.6" height="8.30" fill="#e00000"/>
<rect x="874" y="240.10" width="1" height="15.10" fill="#222"/>
<rect x="872.79" y="245.70" width="3.0" height="2.30" fill="#fbfbfd" stroke="#000" stroke-width="1.0"/>
<rect x="878" y="241.00" width="1" height="18.40" fill="#e83030"/>
<rect x="875.99" y="241.00" width="3.6" height="16.70" fill="#e00000"/>
<rect x="881" y="250.20" width="1" height="16.80" fill="#e83030"/>
<rect x="879.49" y="251.90" width="3.6" height="11.70" fill="#e00000"/>
<rect x="885" y="242.20" width="1" height="9.10" fill="#222"/>
<rect x="883.29" y="249.00" width="3.0" height="1.30" fill="#fbfbfd" stroke="#000" stroke-width="1.0"/>
<path d="M10.51,383.10h6.25l3.5,-3.4l3.5,3.4h6.25v7.9h-19.5z" fill="#fbfbfd" stroke="#959aa4" stroke-width="0.85"/>
<text x="20.26" y="389.55" class="pl" text-anchor="middle" textLength="17.2" lengthAdjust="spacingAndGlyphs">36.03</text>
<path d="M136.45,118.60h19.5v7.9h-6.25l-3.5,3.4l-3.5,-3.4h-6.25z" fill="#fbfbfd" stroke="#959aa4" stroke-width="0.85"/>
<text x="146.20" y="125.05" class="pl" text-anchor="middle" textLength="17.2" lengthAdjust="spacingAndGlyphs">44.77</text>
<path d="M160.94,110.30h19.5v7.9h-6.25l-3.5,3.4l-3.5,-3.4h-6.25z" fill="#fbfbfd" stroke="#959aa4" stroke-width="0.85"/>
<text x="170.69" y="116.75" class="pl" text-anchor="middle" textLength="17.2" lengthAdjust="spacingAndGlyphs">45.05</text>
<path d="M143.45,194.60h6.25l3.5,-3.4l3.5,3.4h6.25v7.9h-19.5z" fill="#fbfbfd" stroke="#959aa4" stroke-width="0.85"/>
<text x="153.20" y="201.05" class="pl" text-anchor="middle" textLength="17.2" lengthAdjust="spacingAndGlyphs">42.64</text>
<path d="M209.92,233.50h6.25l3.5,-3.4l3.5,3.4h6.25v7.9h-19.5z" fill="#fbfbfd" stroke="#959aa4" stroke-width="0.85"/>
<text x="219.67" y="239.95" class="pl" text-anchor="middle" textLength="17.2" lengthAdjust="spacingAndGlyphs">41.26</text>
<path d="M293.89,23.50h19.5v7.9h-6.25l-3.5,3.4l-3.5,-3.4h-6.25z" fill="#fbfbfd" stroke="#959aa4" stroke-width="0.85"/>
<text x="303.64" y="29.95" class="pl" text-anchor="middle" textLength="17.2" lengthAdjust="spacingAndGlyphs">48.09</text>
<path d="M363.86,66.00h19.5v7.9h-6.25l-3.5,3.4l-3.5,-3.4h-6.25z" fill="#fbfbfd" stroke="#959aa4" stroke-width="0.85"/>
<text x="373.61" y="72.45" class="pl" text-anchor="middle" textLength="17.2" lengthAdjust="spacingAndGlyphs">46.60</text>
<path d="M353.36,157.40h6.25l3.5,-3.4l3.5,3.4h6.25v7.9h-19.5z" fill="#fbfbfd" stroke="#959aa4" stroke-width="0.85"/>
<text x="363.11" y="163.85" class="pl" text-anchor="middle" textLength="17.2" lengthAdjust="spacingAndGlyphs">43.98</text>
<path d="M433.83,153.60h19.5v7.9h-6.25l-3.5,3.4l-3.5,-3.4h-6.25z" fill="#fbfbfd" stroke="#959aa4" stroke-width="0.85"/>
<text x="443.58" y="160.05" class="pl" text-anchor="middle" textLength="17.2" lengthAdjust="spacingAndGlyphs">43.53</text>
<path d="M409.34,239.20h6.25l3.5,-3.4l3.5,3.4h6.25v7.9h-19.5z" fill="#fbfbfd" stroke="#959aa4" stroke-width="0.85"/>
<text x="419.09" y="245.65" class="pl" text-anchor="middle" textLength="17.2" lengthAdjust="spacingAndGlyphs">41.06</text>
<path d="M451.32,219.80h6.25l3.5,-3.4l3.5,3.4h6.25v7.9h-19.5z" fill="#fbfbfd" stroke="#959aa4" stroke-width="0.85"/>
<text x="461.07" y="226.25" class="pl" text-anchor="middle" textLength="17.2" lengthAdjust="spacingAndGlyphs">41.74</text>
<path d="M468.81,143.90h19.5v7.9h-6.25l-3.5,3.4l-3.5,-3.4h-6.25z" fill="#fbfbfd" stroke="#959aa4" stroke-width="0.85"/>
<text x="478.56" y="150.35" class="pl" text-anchor="middle" textLength="17.2" lengthAdjust="spacingAndGlyphs">43.87</text>
<path d="M489.80,303.60h6.25l3.5,-3.4l3.5,3.4h6.25v7.9h-19.5z" fill="#fbfbfd" stroke="#959aa4" stroke-width="0.85"/>
<text x="499.55" y="310.05" class="pl" text-anchor="middle" textLength="17.2" lengthAdjust="spacingAndGlyphs">38.86</text>
<path d="M507.29,85.40h19.5v7.9h-6.25l-3.5,3.4l-3.5,-3.4h-6.25z" fill="#fbfbfd" stroke="#959aa4" stroke-width="0.85"/>
<text x="517.04" y="91.85" class="pl" text-anchor="middle" textLength="17.2" lengthAdjust="spacingAndGlyphs">45.92</text>
<path d="M552.77,234.10h6.25l3.5,-3.4l3.5,3.4h6.25v7.9h-19.5z" fill="#fbfbfd" stroke="#959aa4" stroke-width="0.85"/>
<text x="562.52" y="240.55" class="pl" text-anchor="middle" textLength="17.2" lengthAdjust="spacingAndGlyphs">41.24</text>
<path d="M605.25,74.90h19.5v7.9h-6.25l-3.5,3.4l-3.5,-3.4h-6.25z" fill="#fbfbfd" stroke="#959aa4" stroke-width="0.85"/>
<text x="615.00" y="81.35" class="pl" text-anchor="middle" textLength="17.2" lengthAdjust="spacingAndGlyphs">46.29</text>
<path d="M643.74,106.60h19.5v7.9h-6.25l-3.5,3.4l-3.5,-3.4h-6.25z" fill="#fbfbfd" stroke="#959aa4" stroke-width="0.85"/>
<text x="653.49" y="113.05" class="pl" text-anchor="middle" textLength="17.2" lengthAdjust="spacingAndGlyphs">45.18</text>
<path d="M636.74,178.70h6.25l3.5,-3.4l3.5,3.4h6.25v7.9h-19.5z" fill="#fbfbfd" stroke="#959aa4" stroke-width="0.85"/>
<text x="646.49" y="185.15" class="pl" text-anchor="middle" textLength="17.2" lengthAdjust="spacingAndGlyphs">43.18</text>
<path d="M696.21,211.20h6.25l3.5,-3.4l3.5,3.4h6.25v7.9h-19.5z" fill="#fbfbfd" stroke="#959aa4" stroke-width="0.85"/>
<text x="705.96" y="217.65" class="pl" text-anchor="middle" textLength="17.2" lengthAdjust="spacingAndGlyphs">42.05</text>
<path d="M734.70,113.70h19.5v7.9h-6.25l-3.5,3.4l-3.5,-3.4h-6.25z" fill="#fbfbfd" stroke="#959aa4" stroke-width="0.85"/>
<text x="744.45" y="120.15" class="pl" text-anchor="middle" textLength="17.2" lengthAdjust="spacingAndGlyphs">44.93</text>
<path d="M780.18,215.80h6.25l3.5,-3.4l3.5,3.4h6.25v7.9h-19.5z" fill="#fbfbfd" stroke="#959aa4" stroke-width="0.85"/>
<text x="789.93" y="222.25" class="pl" text-anchor="middle" textLength="17.2" lengthAdjust="spacingAndGlyphs">41.88</text>
<path d="M811.66,154.20h19.5v7.9h-6.25l-3.5,3.4l-3.5,-3.4h-6.25z" fill="#fbfbfd" stroke="#959aa4" stroke-width="0.85"/>
<text x="821.41" y="160.65" class="pl" text-anchor="middle" textLength="17.2" lengthAdjust="spacingAndGlyphs">43.51</text>
<path d="M871.14,270.60h6.25l3.5,-3.4l3.5,3.4h6.25v7.9h-19.5z" fill="#fbfbfd" stroke="#959aa4" stroke-width="0.85"/>
<text x="880.89" y="277.05" class="pl" text-anchor="middle" textLength="17.2" lengthAdjust="spacingAndGlyphs">39.96</text>
<path d="M888.5,248.01l2.2,-4.1h21.8v8.2h-21.8z" fill="#fff" stroke="#000" stroke-width="0.9"/>
<text x="901.5" y="250.61" class="cp" text-anchor="middle">40.61</text>
<rect x="12.76" y="394" width="1.8" height="1" fill="#e4e7ee"/>
<rect x="16.26" y="394" width="1.8" height="1" fill="#e4e7ee"/>
<rect x="19.76" y="394" width="1.8" height="1" fill="#e4e7ee"/>
<rect x="23.26" y="394" width="1.8" height="1" fill="#e4e7ee"/>
<rect x="26.75" y="394" width="1.8" height="1" fill="#e4e7ee"/>
<rect x="30.25" y="394" width="1.8" height="1" fill="#e4e7ee"/>
<rect x="33.75" y="394" width="1.8" height="1" fill="#e4e7ee"/>
<rect x="37.25" y="394" width="1.8" height="1" fill="#e4e7ee"/>
<rect x="40.75" y="394" width="1.8" height="1" fill="#e4e7ee"/>
<rect x="44.25" y="394" width="1.8" height="1" fill="#e4e7ee"/>
<rect x="47.74" y="394" width="1.8" height="1" fill="#e4e7ee"/>
<rect x="51.24" y="394" width="1.8" height="1" fill="#e4e7ee"/>
<rect x="54.74" y="394" width="1.8" height="1" fill="#e4e7ee"/>
<rect x="58.24" y="394" width="1.8" height="1" fill="#e4e7ee"/>
<rect x="61.74" y="394" width="1.8" height="1" fill="#e4e7ee"/>
<rect x="65.24" y="394" width="1.8" height="1" fill="#e4e7ee"/>
<rect x="68.74" y="394" width="1.8" height="1" fill="#e4e7ee"/>
<rect x="72.23" y="394" width="1.8" height="1" fill="#e4e7ee"/>
<rect x="75.73" y="394" width="1.8" height="1" fill="#e4e7ee"/>
<rect x="79.23" y="394" width="1.8" height="1" fill="#e4e7ee"/>
<rect x="82.73" y="394" width="1.8" height="1" fill="#e4e7ee"/>
<rect x="86.23" y="394" width="1.8" height="1" fill="#e4e7ee"/>
<rect x="89.73" y="394" width="1.8" height="1" fill="#e4e7ee"/>
<rect x="93.23" y="394" width="1.8" height="1" fill="#e4e7ee"/>
<rect x="96.72" y="394" width="1.8" height="1" fill="#e4e7ee"/>
<rect x="100.22" y="394" width="1.8" height="1" fill="#e4e7ee"/>
<rect x="103.72" y="394" width="1.8" height="1" fill="#e4e7ee"/>
<rect x="107.22" y="394" width="1.8" height="1" fill="#e4e7ee"/>
<rect x="110.72" y="394" width="1.8" height="1" fill="#e4e7ee"/>
<rect x="114.22" y="394" width="1.8" height="1" fill="#e4e7ee"/>
<rect x="117.71" y="394" width="1.8" height="1" fill="#e4e7ee"/>
<rect x="121.21" y="394" width="1.8" height="1" fill="#e4e7ee"/>
<rect x="124.71" y="394" width="1.8" height="1" fill="#e4e7ee"/>
<rect x="128.21" y="394" width="1.8" height="1" fill="#e4e7ee"/>
<rect x="131.71" y="394" width="1.8" height="1" fill="#e4e7ee"/>
<rect x="135.21" y="394" width="1.8" height="1" fill="#e4e7ee"/>
<rect x="138.71" y="394" width="1.8" height="1" fill="#e4e7ee"/>
<rect x="142.20" y="394" width="1.8" height="1" fill="#e4e7ee"/>
<rect x="145.70" y="394" width="1.8" height="1" fill="#e4e7ee"/>
<rect x="149.20" y="394" width="1.8" height="1" fill="#e4e7ee"/>
<rect x="152.70" y="394" width="1.8" height="1" fill="#e4e7ee"/>
<rect x="156.20" y="394" width="1.8" height="1" fill="#e4e7ee"/>
<rect x="159.70" y="394" width="1.8" height="1" fill="#e4e7ee"/>
<rect x="163.20" y="394" width="1.8" height="1" fill="#e4e7ee"/>
<rect x="166.69" y="394" width="1.8" height="1" fill="#e4e7ee"/>
<rect x="170.19" y="394" width="1.8" height="1" fill="#e4e7ee"/>
<rect x="173.69" y="394" width="1.8" height="1" fill="#e4e7ee"/>
<rect x="177.19" y="394" width="1.8" height="1" fill="#e4e7ee"/>
<rect x="180.69" y="394" width="1.8" height="1" fill="#e4e7ee"/>
<rect x="184.19" y="394" width="1.8" height="1" fill="#e4e7ee"/>
<rect x="187.69" y="394" width="1.8" height="1" fill="#e4e7ee"/>
<rect x="191.18" y="394" width="1.8" height="1" fill="#e4e7ee"/>
<rect x="194.68" y="394" width="1.8" height="1" fill="#e4e7ee"/>
<rect x="198.18" y="394" width="1.8" height="1" fill="#e4e7ee"/>
<rect x="201.68" y="394" width="1.8" height="1" fill="#e4e7ee"/>
<rect x="205.18" y="394" width="1.8" height="1" fill="#e4e7ee"/>
<rect x="208.68" y="394" width="1.8" height="1" fill="#e4e7ee"/>
<rect x="212.17" y="394" width="1.8" height="1" fill="#e4e7ee"/>
<rect x="215.67" y="394" width="1.8" height="1" fill="#e4e7ee"/>
<rect x="219.17" y="394" width="1.8" height="1" fill="#e4e7ee"/>
<rect x="222.67" y="394" width="1.8" height="1" fill="#e4e7ee"/>
<rect x="226.17" y="394" width="1.8" height="1" fill="#e4e7ee"/>
<rect x="229.67" y="394" width="1.8" height="1" fill="#e4e7ee"/>
<rect x="233.17" y="394" width="1.8" height="1" fill="#e4e7ee"/>
<rect x="236.66" y="394" width="1.8" height="1" fill="#e4e7ee"/>
<rect x="240.16" y="394" width="1.8" height="1" fill="#e4e7ee"/>
<rect x="243.66" y="394" width="1.8" height="1" fill="#e4e7ee"/>
<rect x="247.16" y="394" width="1.8" height="1" fill="#e4e7ee"/>
<rect x="250.66" y="394" width="1.8" height="1" fill="#e4e7ee"/>
<rect x="254.16" y="394" width="1.8" height="1" fill="#e4e7ee"/>
<rect x="257.66" y="394" width="1.8" height="1" fill="#e4e7ee"/>
<rect x="261.15" y="394" width="1.8" height="1" fill="#e4e7ee"/>
<rect x="264.65" y="394" width="1.8" height="1" fill="#e4e7ee"/>
<rect x="268.15" y="394" width="1.8" height="1" fill="#e4e7ee"/>
<rect x="271.65" y="394" width="1.8" height="1" fill="#e4e7ee"/>
<rect x="275.15" y="394" width="1.8" height="1" fill="#e4e7ee"/>
<rect x="278.65" y="394" width="1.8" height="1" fill="#e4e7ee"/>
<rect x="282.14" y="394" width="1.8" height="1" fill="#e4e7ee"/>
<rect x="285.64" y="394" width="1.8" height="1" fill="#e4e7ee"/>
<rect x="289.14" y="394" width="1.8" height="1" fill="#e4e7ee"/>
<rect x="292.64" y="394" width="1.8" height="1" fill="#e4e7ee"/>
<rect x="296.14" y="394" width="1.8" height="1" fill="#e4e7ee"/>
<rect x="299.64" y="394" width="1.8" height="1" fill="#e4e7ee"/>
<rect x="303.14" y="394" width="1.8" height="1" fill="#e4e7ee"/>
<rect x="306.63" y="394" width="1.8" height="1" fill="#e4e7ee"/>
<rect x="310.13" y="394" width="1.8" height="1" fill="#e4e7ee"/>
<rect x="313.63" y="394" width="1.8" height="1" fill="#e4e7ee"/>
<rect x="317.13" y="394" width="1.8" height="1" fill="#e4e7ee"/>
<rect x="320.63" y="394" width="1.8" height="1" fill="#e4e7ee"/>
<rect x="324.13" y="394" width="1.8" height="1" fill="#e4e7ee"/>
<rect x="327.63" y="394" width="1.8" height="1" fill="#e4e7ee"/>
<rect x="331.12" y="394" width="1.8" height="1" fill="#e4e7ee"/>
<rect x="334.62" y="394" width="1.8" height="1" fill="#e4e7ee"/>
<rect x="338.12" y="394" width="1.8" height="1" fill="#e4e7ee"/>
<rect x="341.62" y="394" width="1.8" height="1" fill="#e4e7ee"/>
<rect x="345.12" y="394" width="1.8" height="1" fill="#e4e7ee"/>
<rect x="348.62" y="394" width="1.8" height="1" fill="#e4e7ee"/>
<rect x="352.11" y="394" width="1.8" height="1" fill="#e4e7ee"/>
<rect x="355.61" y="394" width="1.8" height="1" fill="#e4e7ee"/>
<rect x="359.11" y="394" width="1.8" height="1" fill="#e4e7ee"/>
<rect x="362.61" y="394" width="1.8" height="1" fill="#e4e7ee"/>
<rect x="366.11" y="394" width="1.8" height="1" fill="#e4e7ee"/>
<rect x="369.61" y="394" width="1.8" height="1" fill="#e4e7ee"/>
<rect x="373.11" y="394" width="1.8" height="1" fill="#e4e7ee"/>
<rect x="376.60" y="394" width="1.8" height="1" fill="#e4e7ee"/>
<rect x="380.10" y="394" width="1.8" height="1" fill="#e4e7ee"/>
<rect x="383.60" y="394" width="1.8" height="1" fill="#e4e7ee"/>
<rect x="387.10" y="394" width="1.8" height="1" fill="#e4e7ee"/>
<rect x="390.60" y="394" width="1.8" height="1" fill="#e4e7ee"/>
<rect x="394.10" y="394" width="1.8" height="1" fill="#e4e7ee"/>
<rect x="397.60" y="394" width="1.8" height="1" fill="#e4e7ee"/>
<rect x="401.09" y="394" width="1.8" height="1" fill="#e4e7ee"/>
<rect x="404.59" y="394" width="1.8" height="1" fill="#e4e7ee"/>
<rect x="408.09" y="394" width="1.8" height="1" fill="#e4e7ee"/>
<rect x="411.59" y="394" width="1.8" height="1" fill="#e4e7ee"/>
<rect x="415.09" y="394" width="1.8" height="1" fill="#e4e7ee"/>
<rect x="418.59" y="394" width="1.8" height="1" fill="#e4e7ee"/>
<rect x="422.08" y="394" width="1.8" height="1" fill="#e4e7ee"/>
<rect x="425.58" y="394" width="1.8" height="1" fill="#e4e7ee"/>
<rect x="429.08" y="394" width="1.8" height="1" fill="#e4e7ee"/>
<rect x="432.58" y="394" width="1.8" height="1" fill="#e4e7ee"/>
<rect x="436.08" y="394" width="1.8" height="1" fill="#e4e7ee"/>
<rect x="439.58" y="394" width="1.8" height="1" fill="#e4e7ee"/>
<rect x="443.08" y="394" width="1.8" height="1" fill="#e4e7ee"/>
<rect x="446.57" y="394" width="1.8" height="1" fill="#e4e7ee"/>
<rect x="450.07" y="394" width="1.8" height="1" fill="#e4e7ee"/>
<rect x="453.57" y="394" width="1.8" height="1" fill="#e4e7ee"/>
<rect x="457.07" y="394" width="1.8" height="1" fill="#e4e7ee"/>
<rect x="460.57" y="394" width="1.8" height="1" fill="#e4e7ee"/>
<rect x="464.07" y="394" width="1.8" height="1" fill="#e4e7ee"/>
<rect x="467.57" y="394" width="1.8" height="1" fill="#e4e7ee"/>
<rect x="471.06" y="394" width="1.8" height="1" fill="#e4e7ee"/>
<rect x="474.56" y="394" width="1.8" height="1" fill="#e4e7ee"/>
<rect x="478.06" y="394" width="1.8" height="1" fill="#e4e7ee"/>
<rect x="481.56" y="394" width="1.8" height="1" fill="#e4e7ee"/>
<rect x="485.06" y="394" width="1.8" height="1" fill="#e4e7ee"/>
<rect x="488.56" y="394" width="1.8" height="1" fill="#e4e7ee"/>
<rect x="492.05" y="394" width="1.8" height="1" fill="#e4e7ee"/>
<rect x="495.55" y="394" width="1.8" height="1" fill="#e4e7ee"/>
<rect x="499.05" y="394" width="1.8" height="1" fill="#e4e7ee"/>
<rect x="502.55" y="394" width="1.8" height="1" fill="#e4e7ee"/>
<rect x="506.05" y="394" width="1.8" height="1" fill="#e4e7ee"/>
<rect x="509.55" y="394" width="1.8" height="1" fill="#e4e7ee"/>
<rect x="513.05" y="394" width="1.8" height="1" fill="#e4e7ee"/>
<rect x="516.54" y="394" width="1.8" height="1" fill="#e4e7ee"/>
<rect x="520.04" y="394" width="1.8" height="1" fill="#e4e7ee"/>
<rect x="523.54" y="394" width="1.8" height="1" fill="#e4e7ee"/>
<rect x="527.04" y="394" width="1.8" height="1" fill="#e4e7ee"/>
<rect x="530.54" y="394" width="1.8" height="1" fill="#e4e7ee"/>
<rect x="534.04" y="394" width="1.8" height="1" fill="#e4e7ee"/>
<rect x="537.53" y="394" width="1.8" height="1" fill="#e4e7ee"/>
<rect x="541.03" y="394" width="1.8" height="1" fill="#e4e7ee"/>
<rect x="544.53" y="394" width="1.8" height="1" fill="#e4e7ee"/>
<rect x="548.03" y="394" width="1.8" height="1" fill="#e4e7ee"/>
<rect x="551.53" y="394" width="1.8" height="1" fill="#e4e7ee"/>
<rect x="555.03" y="394" width="1.8" height="1" fill="#e4e7ee"/>
<rect x="558.53" y="394" width="1.8" height="1" fill="#e4e7ee"/>
<rect x="562.02" y="394" width="1.8" height="1" fill="#e4e7ee"/>
<rect x="565.52" y="394" width="1.8" height="1" fill="#e4e7ee"/>
<rect x="569.02" y="394" width="1.8" height="1" fill="#e4e7ee"/>
<rect x="572.52" y="394" width="1.8" height="1" fill="#e4e7ee"/>
<rect x="576.02" y="394" width="1.8" height="1" fill="#e4e7ee"/>
<rect x="579.52" y="394" width="1.8" height="1" fill="#e4e7ee"/>
<rect x="583.02" y="394" width="1.8" height="1" fill="#e4e7ee"/>
<rect x="586.51" y="394" width="1.8" height="1" fill="#e4e7ee"/>
<rect x="590.01" y="394" width="1.8" height="1" fill="#e4e7ee"/>
<rect x="593.51" y="394" width="1.8" height="1" fill="#e4e7ee"/>
<rect x="597.01" y="394" width="1.8" height="1" fill="#e4e7ee"/>
<rect x="600.51" y="394" width="1.8" height="1" fill="#e4e7ee"/>
<rect x="604.01" y="394" width="1.8" height="1" fill="#e4e7ee"/>
<rect x="607.50" y="394" width="1.8" height="1" fill="#e4e7ee"/>
<rect x="611.00" y="394" width="1.8" height="1" fill="#e4e7ee"/>
<rect x="614.50" y="394" width="1.8" height="1" fill="#e4e7ee"/>
<rect x="618.00" y="394" width="1.8" height="1" fill="#e4e7ee"/>
<rect x="621.50" y="394" width="1.8" height="1" fill="#e4e7ee"/>
<rect x="625.00" y="394" width="1.8" height="1" fill="#e4e7ee"/>
<rect x="628.50" y="394" width="1.8" height="1" fill="#e4e7ee"/>
<rect x="631.99" y="394" width="1.8" height="1" fill="#e4e7ee"/>
<rect x="635.49" y="394" width="1.8" height="1" fill="#e4e7ee"/>
<rect x="638.99" y="394" width="1.8" height="1" fill="#e4e7ee"/>
<rect x="642.49" y="394" width="1.8" height="1" fill="#e4e7ee"/>
<rect x="645.99" y="394" width="1.8" height="1" fill="#e4e7ee"/>
<rect x="649.49" y="394" width="1.8" height="1" fill="#e4e7ee"/>
<rect x="652.99" y="394" width="1.8" height="1" fill="#e4e7ee"/>
<rect x="656.48" y="394" width="1.8" height="1" fill="#e4e7ee"/>
<rect x="659.98" y="394" width="1.8" height="1" fill="#e4e7ee"/>
<rect x="663.48" y="394" width="1.8" height="1" fill="#e4e7ee"/>
<rect x="666.98" y="394" width="1.8" height="1" fill="#e4e7ee"/>
<rect x="670.48" y="394" width="1.8" height="1" fill="#e4e7ee"/>
<rect x="673.98" y="394" width="1.8" height="1" fill="#e4e7ee"/>
<rect x="677.48" y="394" width="1.8" height="1" fill="#e4e7ee"/>
<rect x="680.97" y="394" width="1.8" height="1" fill="#e4e7ee"/>
<rect x="684.47" y="394" width="1.8" height="1" fill="#e4e7ee"/>
<rect x="687.97" y="394" width="1.8" height="1" fill="#e4e7ee"/>
<rect x="691.47" y="394" width="1.8" height="1" fill="#e4e7ee"/>
<rect x="694.97" y="394" width="1.8" height="1" fill="#e4e7ee"/>
<rect x="698.47" y="394" width="1.8" height="1" fill="#e4e7ee"/>
<rect x="701.96" y="394" width="1.8" height="1" fill="#e4e7ee"/>
<rect x="705.46" y="394" width="1.8" height="1" fill="#e4e7ee"/>
<rect x="708.96" y="394" width="1.8" height="1" fill="#e4e7ee"/>
<rect x="712.46" y="394" width="1.8" height="1" fill="#e4e7ee"/>
<rect x="715.96" y="394" width="1.8" height="1" fill="#e4e7ee"/>
<rect x="719.46" y="394" width="1.8" height="1" fill="#e4e7ee"/>
<rect x="722.96" y="394" width="1.8" height="1" fill="#e4e7ee"/>
<rect x="726.45" y="394" width="1.8" height="1" fill="#e4e7ee"/>
<rect x="729.95" y="394" width="1.8" height="1" fill="#e4e7ee"/>
<rect x="733.45" y="394" width="1.8" height="1" fill="#e4e7ee"/>
<rect x="736.95" y="394" width="1.8" height="1" fill="#e4e7ee"/>
<rect x="740.45" y="394" width="1.8" height="1" fill="#e4e7ee"/>
<rect x="743.95" y="394" width="1.8" height="1" fill="#e4e7ee"/>
<rect x="747.44" y="394" width="1.8" height="1" fill="#e4e7ee"/>
<rect x="750.94" y="394" width="1.8" height="1" fill="#e4e7ee"/>
<rect x="754.44" y="394" width="1.8" height="1" fill="#e4e7ee"/>
<rect x="757.94" y="394" width="1.8" height="1" fill="#e4e7ee"/>
<rect x="761.44" y="394" width="1.8" height="1" fill="#e4e7ee"/>
<rect x="764.94" y="394" width="1.8" height="1" fill="#e4e7ee"/>
<rect x="768.44" y="394" width="1.8" height="1" fill="#e4e7ee"/>
<rect x="771.93" y="394" width="1.8" height="1" fill="#e4e7ee"/>
<rect x="775.43" y="394" width="1.8" height="1" fill="#e4e7ee"/>
<rect x="778.93" y="394" width="1.8" height="1" fill="#e4e7ee"/>
<rect x="782.43" y="394" width="1.8" height="1" fill="#e4e7ee"/>
<rect x="785.93" y="394" width="1.8" height="1" fill="#e4e7ee"/>
<rect x="789.43" y="394" width="1.8" height="1" fill="#e4e7ee"/>
<rect x="792.93" y="394" width="1.8" height="1" fill="#e4e7ee"/>
<rect x="796.42" y="394" width="1.8" height="1" fill="#e4e7ee"/>
<rect x="799.92" y="394" width="1.8" height="1" fill="#e4e7ee"/>
<rect x="803.42" y="394" width="1.8" height="1" fill="#e4e7ee"/>
<rect x="806.92" y="394" width="1.8" height="1" fill="#e4e7ee"/>
<rect x="810.42" y="394" width="1.8" height="1" fill="#e4e7ee"/>
<rect x="813.92" y="394" width="1.8" height="1" fill="#e4e7ee"/>
<rect x="817.41" y="394" width="1.8" height="1" fill="#e4e7ee"/>
<rect x="820.91" y="394" width="1.8" height="1" fill="#e4e7ee"/>
<rect x="824.41" y="394" width="1.8" height="1" fill="#e4e7ee"/>
<rect x="827.91" y="394" width="1.8" height="1" fill="#e4e7ee"/>
<rect x="831.41" y="394" width="1.8" height="1" fill="#e4e7ee"/>
<rect x="834.91" y="394" width="1.8" height="1" fill="#e4e7ee"/>
<rect x="838.41" y="394" width="1.8" height="1" fill="#e4e7ee"/>
<rect x="841.90" y="394" width="1.8" height="1" fill="#e4e7ee"/>
<rect x="845.40" y="394" width="1.8" height="1" fill="#e4e7ee"/>
<rect x="848.90" y="394" width="1.8" height="1" fill="#e4e7ee"/>
<rect x="852.40" y="394" width="1.8" height="1" fill="#e4e7ee"/>
<rect x="855.90" y="394" width="1.8" height="1" fill="#e4e7ee"/>
<rect x="859.40" y="394" width="1.8" height="1" fill="#e4e7ee"/>
<rect x="862.90" y="394" width="1.8" height="1" fill="#e4e7ee"/>
<rect x="866.39" y="394" width="1.8" height="1" fill="#e4e7ee"/>
<rect x="869.89" y="394" width="1.8" height="1" fill="#e4e7ee"/>
<rect x="873.39" y="394" width="1.8" height="1" fill="#e4e7ee"/>
<rect x="876.89" y="394" width="1.8" height="1" fill="#e4e7ee"/>
<rect x="880.39" y="394" width="1.8" height="1" fill="#e4e7ee"/>
<rect x="883.89" y="394" width="1.8" height="1" fill="#e4e7ee"/>
<text x="17.16" y="401" class="xl" text-anchor="middle">16</text>
<text x="34.65" y="401" class="xl" text-anchor="middle">23</text>
<text x="55.90" y="401.2" class="xb" text-anchor="middle" textLength="13.00" lengthAdjust="spacingAndGlyphs">Oct</text>
<text x="69.64" y="401" class="xl" text-anchor="middle">7</text>
<text x="87.13" y="401" class="xl" text-anchor="middle">14</text>
<text x="104.62" y="401" class="xl" text-anchor="middle">21</text>
<text x="122.11" y="401" class="xl" text-anchor="middle">28</text>
<text x="136.00" y="401.2" class="xb" text-anchor="middle" textLength="15.10" lengthAdjust="spacingAndGlyphs">Nov</text>
<text x="157.10" y="401" class="xl" text-anchor="middle">11</text>
<text x="174.59" y="401" class="xl" text-anchor="middle">18</text>
<text x="192.08" y="401" class="xl" text-anchor="middle">25</text>
<text x="205.60" y="401.2" class="xb" text-anchor="middle" textLength="15.35" lengthAdjust="spacingAndGlyphs">Dec</text>
<text x="223.57" y="401" class="xl" text-anchor="middle">9</text>
<text x="241.06" y="401" class="xl" text-anchor="middle">16</text>
<text x="258.56" y="401" class="xl" text-anchor="middle">23</text>
<text x="278.75" y="401.2" class="xb" text-anchor="middle" textLength="18.10" lengthAdjust="spacingAndGlyphs">2025</text>
<text x="300.54" y="401" class="xl" text-anchor="middle">13</text>
<text x="318.03" y="401" class="xl" text-anchor="middle">21</text>
<text x="332.02" y="401" class="xl" text-anchor="middle">27</text>
<text x="349.75" y="401.2" class="xb" text-anchor="middle" textLength="15.10" lengthAdjust="spacingAndGlyphs">Feb</text>
<text x="367.01" y="401" class="xl" text-anchor="middle">10</text>
<text x="384.50" y="401" class="xl" text-anchor="middle">18</text>
<text x="398.50" y="401" class="xl" text-anchor="middle">24</text>
<text x="415.90" y="401.2" class="xb" text-anchor="middle" textLength="14.85" lengthAdjust="spacingAndGlyphs">Mar</text>
<text x="433.48" y="401" class="xl" text-anchor="middle">10</text>
<text x="450.97" y="401" class="xl" text-anchor="middle">17</text>
<text x="468.47" y="401" class="xl" text-anchor="middle">24</text>
<text x="490.00" y="401.2" class="xb" text-anchor="middle" textLength="14.60" lengthAdjust="spacingAndGlyphs">Apr</text>
<text x="503.45" y="401" class="xl" text-anchor="middle">7</text>
<text x="520.94" y="401" class="xl" text-anchor="middle">14</text>
<text x="534.94" y="401" class="xl" text-anchor="middle">21</text>
<text x="562.90" y="401.2" class="xb" text-anchor="middle" textLength="17.35" lengthAdjust="spacingAndGlyphs">May</text>
<text x="587.41" y="401" class="xl" text-anchor="middle">12</text>
<text x="604.91" y="401" class="xl" text-anchor="middle">19</text>
<text x="622.40" y="401" class="xl" text-anchor="middle">27</text>
<text x="636.60" y="401.2" class="xb" text-anchor="middle" textLength="14.85" lengthAdjust="spacingAndGlyphs">Jun</text>
<text x="653.89" y="401" class="xl" text-anchor="middle">9</text>
<text x="671.38" y="401" class="xl" text-anchor="middle">16</text>
<text x="685.37" y="401" class="xl" text-anchor="middle">23</text>
<text x="706.90" y="401.2" class="xb" text-anchor="middle" textLength="11.85" lengthAdjust="spacingAndGlyphs">Jul</text>
<text x="716.86" y="401" class="xl" text-anchor="middle">7</text>
<text x="734.35" y="401" class="xl" text-anchor="middle">14</text>
<text x="751.84" y="401" class="xl" text-anchor="middle">21</text>
<text x="769.34" y="401" class="xl" text-anchor="middle">28</text>
<text x="784.30" y="401.2" class="xb" text-anchor="middle" textLength="16.80" lengthAdjust="spacingAndGlyphs">Aug</text>
<text x="804.32" y="401" class="xl" text-anchor="middle">11</text>
<text x="821.81" y="401" class="xl" text-anchor="middle">18</text>
<text x="839.31" y="401" class="xl" text-anchor="middle">25</text>
<text x="857.60" y="401.2" class="xb" text-anchor="middle" textLength="15.90" lengthAdjust="spacingAndGlyphs">Sep</text>
<text x="870.79" y="401" class="xl" text-anchor="middle">8</text>
<text x="12.0" y="9.8" style="font-family:Liberation Sans,sans-serif;font-size:10.4px;font-weight:bold;fill:#000" text-anchor="start" textLength="24" lengthAdjust="spacingAndGlyphs">$TNX</text>
<text x="38.3" y="9.85" style="font-family:Liberation Sans,sans-serif;font-size:8.0px;fill:#111" text-anchor="start" textLength="142" lengthAdjust="spacingAndGlyphs">CBOE 10-Year US Treasury Yield INDX</text>
<text x="12.0" y="19.0" style="font-family:Liberation Sans,sans-serif;font-size:8.0px;fill:#111" text-anchor="start" textLength="45.2" lengthAdjust="spacingAndGlyphs">12-Sep-2025</text>
<text x="23.2" y="29.1" style="font-family:Liberation Sans,sans-serif;font-size:7.6px;fill:#000;stroke:#000;stroke-width:0.08px" text-anchor="start" textLength="77" lengthAdjust="spacingAndGlyphs">$TNX (Daily) 40.61</text>
<text x="21.5" y="36.35" style="font-family:Liberation Sans,sans-serif;font-size:7.8px;fill:#2a6e2a" text-anchor="start" textLength="46.3" lengthAdjust="spacingAndGlyphs">Volume undef</text>
<g fill="none" stroke="#000" stroke-width="1.4"><path d="M15.4,23.6q-1.7,2.5,0,5"/><path d="M19.5,23.6q1.7,2.5,0,5"/></g><ellipse cx="17.45" cy="26.1" rx="1.6" ry="2.1" fill="#000"/><rect x="17.1" y="24" width="0.7" height="4.6" fill="#000"/>
<g fill="#2a6e2a"><rect x="14.1" y="32.6" width="1.1" height="2.9"/><rect x="15.6" y="30.6" width="1.2" height="4.9"/><rect x="17.3" y="31.6" width="1.1" height="3.9"/><rect x="18.4" y="32.4" width="0.8" height="0.9"/><rect x="19.3" y="32.4" width="1.2" height="3.1"/></g>
<text x="822.6" y="10.2" style="font-family:Liberation Sans,sans-serif;font-size:8.2px;fill:#585b63" text-anchor="start" textLength="67.8" lengthAdjust="spacingAndGlyphs">&#169;StockCharts.com</text>
<text x="622.2" y="18.85" style="font-family:Liberation Sans,sans-serif;font-size:8.3px;font-weight:bold;fill:#000" text-anchor="start" textLength="21" lengthAdjust="spacingAndGlyphs">Open</text>
<text x="645.6" y="18.85" style="font-family:Liberation Sans,sans-serif;font-size:8.3px;fill:#111" text-anchor="start" textLength="20.2" lengthAdjust="spacingAndGlyphs">40.53</text>
<text x="670.2" y="18.85" style="font-family:Liberation Sans,sans-serif;font-size:8.3px;font-weight:bold;fill:#000" text-anchor="start" textLength="17.6" lengthAdjust="spacingAndGlyphs">High</text>
<text x="690.9" y="18.85" style="font-family:Liberation Sans,sans-serif;font-size:8.3px;fill:#111" text-anchor="start" textLength="19.3" lengthAdjust="spacingAndGlyphs">40.83</text>
<text x="714.6" y="18.85" style="font-family:Liberation Sans,sans-serif;font-size:8.3px;font-weight:bold;fill:#000" text-anchor="start" textLength="17.5" lengthAdjust="spacingAndGlyphs">Low</text>
<text x="734.6" y="18.85" style="font-family:Liberation Sans,sans-serif;font-size:8.3px;fill:#111" text-anchor="start" textLength="20" lengthAdjust="spacingAndGlyphs">40.51</text>
<text x="759.6" y="18.85" style="font-family:Liberation Sans,sans-serif;font-size:8.3px;font-weight:bold;fill:#000" text-anchor="start" textLength="23.1" lengthAdjust="spacingAndGlyphs">Close</text>
<text x="785.2" y="18.85" style="font-family:Liberation Sans,sans-serif;font-size:8.3px;fill:#111" text-anchor="start" textLength="19.4" lengthAdjust="spacingAndGlyphs">40.61</text>
<text x="809.6" y="18.85" style="font-family:Liberation Sans,sans-serif;font-size:8.3px;font-weight:bold;fill:#000" text-anchor="start" textLength="16.2" lengthAdjust="spacingAndGlyphs">Chg</text>
<text x="828.3" y="18.85" style="font-family:Liberation Sans,sans-serif;font-size:8.3px;fill:#111" text-anchor="start" textLength="54.2" lengthAdjust="spacingAndGlyphs">+0.50 (+1.25%)</text>
<path d="M884,18.7L886.9,16L889.8,18.7z" fill="#7a8aa0"/>
</svg>
</body></html>
